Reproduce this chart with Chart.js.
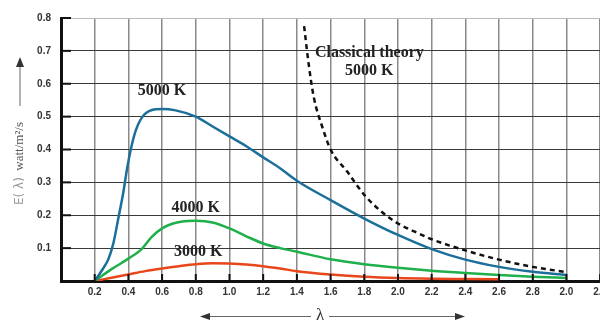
<!DOCTYPE html>
<html>
<head>
<meta charset="utf-8">
<script src="https://cdn.jsdelivr.net/npm/chart.js@4/dist/chart.umd.min.js"></script>
<style>
  html, body { margin: 0; padding: 0; background: #fff; overflow: hidden; }
  #wrap { width: 620px; height: 320px; }
</style>
</head>
<body>
<div id="wrap"><canvas id="planck" width="620" height="320"></canvas></div>
<script>
// wavelength / energy readings for each curve
const lambda5000 = [0.2,0.25,0.28,0.31,0.34,0.37,0.39,0.41,0.44,0.48,0.54,0.6,0.68,0.8,0.9,1.0,1.1,1.2,1.3,1.4,1.6,1.8,2.0,2.2,2.4,2.6,2.8,3.0]
const e5000 = [0,0.038,0.065,0.113,0.19,0.27,0.335,0.39,0.452,0.497,0.52,0.523,0.519,0.5,0.47,0.44,0.41,0.376,0.343,0.305,0.246,0.19,0.14,0.097,0.065,0.043,0.028,0.018]

const lambda4000 = [0.2,0.3,0.4,0.48,0.54,0.6,0.66,0.72,0.8,0.9,1.0,1.1,1.2,1.3,1.4,1.6,1.8,2.0,2.2,2.4,2.6,2.8,3.0]
const e4000 = [0,0.036,0.068,0.098,0.135,0.16,0.174,0.181,0.183,0.178,0.16,0.136,0.114,0.1,0.089,0.066,0.051,0.04,0.031,0.024,0.018,0.013,0.009]

const lambda3000 = [0.2,0.3,0.4,0.5,0.6,0.7,0.8,0.9,1.0,1.1,1.2,1.3,1.4,1.6,1.8,2.0,2.2,2.4,2.6]
const e3000 = [0,0.01,0.02,0.03,0.038,0.045,0.051,0.054,0.053,0.05,0.045,0.038,0.03,0.02,0.013,0.009,0.007,0.006,0.005]

const lambdaClassic = [1.443,1.47,1.5,1.55,1.6,1.7,1.8,1.9,2.0,2.1,2.2,2.4,2.6,2.8,3.0]
const eClassic = [0.775,0.66,0.56,0.47,0.40,0.332,0.262,0.212,0.175,0.15,0.127,0.093,0.065,0.043,0.027]

const xTicks = [0,0.2,0.4,0.6,0.8,1.0,1.2,1.4,1.6,1.8,2.0,2.2,2.4,2.6,2.8,3.0,3.2]
const xTickLabels = ['','0.2','0.4','0.6','0.8','1.0','1.2','1.4','1.6','1.8','2.0','2.2','2.4','2.6','2.8','2.0','2.2']
const yTicks = [0,0.1,0.2,0.3,0.4,0.5,0.6,0.7,0.8]
const yTickLabels = ['','0.1','0.2','0.3','0.4','0.5','0.6','0.7','0.8']

// text labels placed at data coordinates
const curveLabels = ['5000 K','4000 K','3000 K','Classical theory','5000 K']
const curveLabelX = [0.6,0.8,0.815,1.83,1.83]
const curveLabelY = [0.578,0.222,0.088,0.693,0.64]

function pts(xs, ys){ return xs.map((v,i)=>({x:v, y:ys[i]})) }

function arrowHead(ctx, x, y, dir){
    // dir: 'up' | 'left' | 'right'
    ctx.beginPath()
    if(dir=='up'){ ctx.moveTo(x,y); ctx.lineTo(x-4,y+10); ctx.lineTo(x+4,y+10) }
    if(dir=='left'){ ctx.moveTo(x,y); ctx.lineTo(x+10,y-3.5); ctx.lineTo(x+10,y+3.5) }
    if(dir=='right'){ ctx.moveTo(x,y); ctx.lineTo(x-10,y-3.5); ctx.lineTo(x-10,y+3.5) }
    ctx.closePath()
    ctx.fill()
}

const decor = {
    id: 'decor',
    beforeDraw(chart){
        const ctx = chart.ctx
        ctx.save()
        ctx.fillStyle = '#fff'
        ctx.fillRect(0,0,chart.width,chart.height)
        ctx.restore()
    },
    afterDraw(chart){
        const { ctx, chartArea: a } = chart
        const x = chart.scales.x, y = chart.scales.y
        ctx.save()
        // short inner tick marks
        ctx.strokeStyle = '#111'
        ctx.lineWidth = 2
        xTicks.forEach(v=>{
            if(v<=0) return
            const px = x.getPixelForValue(v)
            ctx.beginPath(); ctx.moveTo(px,a.bottom); ctx.lineTo(px,a.bottom-7); ctx.stroke()
        })
        yTicks.forEach(v=>{
            if(v<=0) return
            const py = y.getPixelForValue(v)
            ctx.beginPath(); ctx.moveTo(a.left,py); ctx.lineTo(a.left+10,py); ctx.stroke()
        })

        // curve labels
        ctx.fillStyle = '#222'
        ctx.font = 'bold 16px "Liberation Serif", "DejaVu Serif", serif'
        ctx.textAlign = 'center'
        ctx.textBaseline = 'middle'
        curveLabels.forEach((t,i)=>{
            ctx.fillText(t, x.getPixelForValue(curveLabelX[i]), y.getPixelForValue(curveLabelY[i]))
        })

        // y axis title with arrow
        ctx.save()
        ctx.translate(20,152)
        ctx.rotate(-Math.PI/2)
        ctx.textBaseline = 'middle'
        ctx.textAlign = 'left'
        ctx.fillStyle = '#999'
        ctx.font = '12px "DejaVu Sans", sans-serif'
        ctx.fillText('E( λ)', -53, 0)
        ctx.textAlign = 'right'
        ctx.fillStyle = '#555'
        ctx.font = '13px "Liberation Serif", serif'
        ctx.fillText('watt/m²/s', 30, 0)
        ctx.restore()

        ctx.strokeStyle = '#666'
        ctx.fillStyle = '#333'
        ctx.lineWidth = 1
        ctx.beginPath(); ctx.moveTo(20,106); ctx.lineTo(20,62); ctx.stroke()
        arrowHead(ctx, 20, 57, 'up')

        // x axis title with arrows
        ctx.fillStyle = '#333'
        ctx.font = '17px "Liberation Serif", serif'
        ctx.textAlign = 'center'
        ctx.textBaseline = 'middle'
        ctx.fillText('λ', 320, 316)
        ctx.beginPath(); ctx.moveTo(311,316.5); ctx.lineTo(205,316.5); ctx.stroke()
        ctx.beginPath(); ctx.moveTo(329,316.5); ctx.lineTo(460,316.5); ctx.stroke()
        arrowHead(ctx, 200, 316.5, 'left')
        arrowHead(ctx, 465, 316.5, 'right')
        ctx.restore()
    }
}

const ctx = document.getElementById('planck').getContext('2d')
const planckChart = new Chart(ctx, {
    type: 'line',
    data: {
        datasets: [
            { data: pts(lambdaClassic, eClassic), borderColor: '#111', borderWidth: 2.5, borderDash: [5,4] },
            { data: pts(lambda5000, e5000), borderColor: '#1b6f9a', borderWidth: 2.5 },
            { data: pts(lambda4000, e4000), borderColor: '#1fb04c', borderWidth: 2.5 },
            { data: pts(lambda3000, e3000), borderColor: '#e8471c', borderWidth: 2.5 }
        ]
    },
    options: {
        responsive: false,
        animation: false,
        layout: { padding: { top: 18, right: 3, left: 0, bottom: 0 } },
        elements: {
            point: { radius: 0 },
            line: { cubicInterpolationMode: 'monotone', fill: false }
        },
        plugins: { legend: { display: false }, tooltip: { enabled: false } },
        scales: {
            x: {
                type: 'linear',
                min: 0,
                max: 3.3,
                afterBuildTicks: (s)=>{ s.ticks = xTicks.map(v=>({value:v})) },
                afterFit: (s)=>{ s.height = 39 },
                border: { color: '#111', width: 3 },
                grid: { color: '#8a8a8a', lineWidth: 1.5, drawTicks: false },
                ticks: {
                    autoSkip: false,
                    maxRotation: 0,
                    padding: 5,
                    color: '#333',
                    font: { family: 'Arial, "Liberation Sans", sans-serif', size: 10, weight: 'bold' },
                    callback: (v, i)=> xTickLabels[i]
                }
            },
            y: {
                min: 0,
                max: 0.8,
                afterBuildTicks: (s)=>{ s.ticks = yTicks.map(v=>({value:v})) },
                afterFit: (s)=>{ s.width = 61 },
                border: { color: '#111', width: 3 },
                grid: {
                    color: (c)=> c.tick && c.tick.value >= 0.8 ? '#bbbbbb' : '#3a3a3a',
                    lineWidth: 1,
                    drawTicks: false
                },
                ticks: {
                    padding: 10,
                    color: '#333',
                    font: { family: 'Arial, "Liberation Sans", sans-serif', size: 10, weight: 'bold' },
                    callback: (v, i)=> yTickLabels[i]
                }
            }
        }
    },
    plugins: [decor]
})
</script>
</body>
</html>
